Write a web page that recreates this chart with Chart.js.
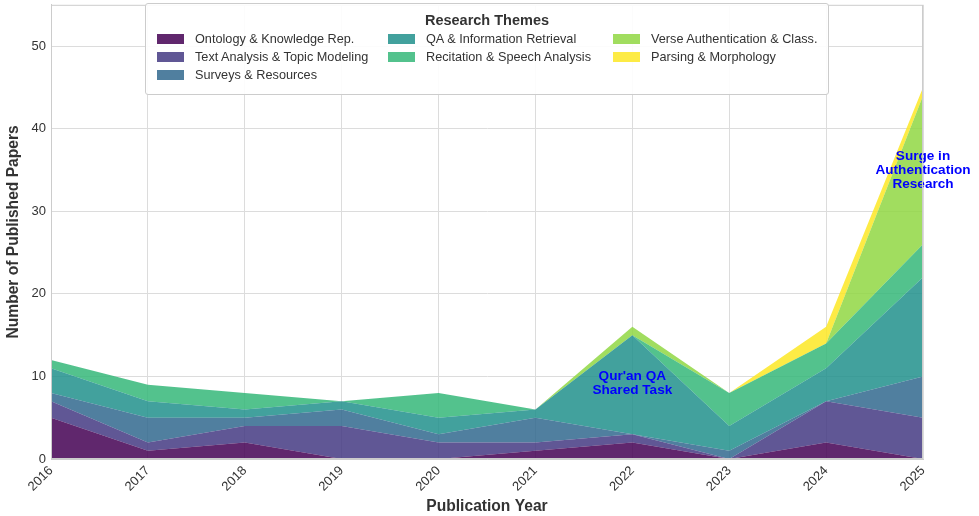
<!DOCTYPE html>
<html>
<head>
<meta charset="utf-8">
<script src="https://cdn.jsdelivr.net/npm/chart.js@4.4.0/dist/chart.umd.min.js"></script>
<style>
  body { margin: 0; background: #fff; font-family: "Liberation Sans", Arial, sans-serif; }
  #wrap { position: relative; width: 979px; height: 516px; overflow: hidden; }
  #myChart { position: absolute; left: 0; top: -8px; }
  #legend {
    position: absolute; left: 145px; top: 3px; width: 684px; height: 92px;
    background: rgba(255,255,255,0.9); border: 1px solid #ccc; border-radius: 3px;
    box-sizing: border-box; font-size: 12.7px; color: #333;
  }
  #legend .title { position: absolute; top: 8px; width: 100%; text-align: center; font-weight: bold; font-size: 14.5px; }
  #legend .item { position: absolute; white-space: nowrap; line-height: 15px; }
  #legend .sw { display: inline-block; width: 27px; height: 10px; vertical-align: -1px; margin-right: 11px; }
</style>
</head>
<body>
<div id="wrap">
  <canvas id="myChart" width="979" height="524"></canvas>
  <div id="legend"><div class="title">Research Themes</div></div>
</div>
<script>
let years = ['2016', '2017', '2018', '2019', '2020', '2021', '2022', '2023', '2024', '2025'];
let themes = ['Ontology & Knowledge Rep.', 'Text Analysis & Topic Modeling', 'Surveys & Resources',
  'QA & Information Retrieval', 'Recitation & Speech Analysis', 'Verse Authentication & Class.', 'Parsing & Morphology'];
let ontology   = [5, 1, 2, 0, 0, 1, 2, 0, 2, 0];
let textAnal   = [2, 1, 2, 4, 2, 1, 1, 0, 5, 5];
let surveys    = [1, 3, 1, 2, 1, 3, 0, 1, 0, 5];
let qaRetr     = [3, 2, 1, 1, 2, 1, 12, 3, 4, 12];
let recitation = [1, 2, 2, 0, 3, 0, 0, 4, 3, 4];
let verseAuth  = [0, 0, 0, 0, 0, 0, 1, 0, 0, 18];
let parsing    = [0, 0, 0, 0, 0, 0, 0, 0, 2, 1];
let yTicks = [0, 10, 20, 30, 40, 50];
let colors = ['rgba(68,1,84,0.85)', 'rgba(68,57,131,0.85)', 'rgba(49,104,142,0.85)', 'rgba(33,145,140,0.85)',
  'rgba(53,183,121,0.85)', 'rgba(144,215,67,0.85)', 'rgba(253,231,37,0.85)'];
let series = [ontology, textAnal, surveys, qaRetr, recitation, verseAuth, parsing];

// legend laid out in three columns like the original
let legendEl = document.getElementById('legend');
let colX = [11, 242, 467];
themes.forEach(function (name, i) {
  let col = i < 3 ? 0 : (i < 5 ? 1 : 2);
  let row = i < 3 ? i : (i < 5 ? i - 3 : i - 5);
  let d = document.createElement('div');
  d.className = 'item';
  d.style.left = colX[col] + 'px';
  d.style.top = (28 + row * 18) + 'px';
  d.innerHTML = '<span class="sw" style="background:' + colors[i] + '"></span>' + name.replace(/&/g, '&amp;');
  legendEl.appendChild(d);
});

let notes = [
  { x: 6, y: 9.2, lines: ["Qur'an QA", 'Shared Task'] },
  { x: 9, y: 35, lines: ['Surge in', 'Authentication', 'Research'] }
];

let notePlugin = {
  id: 'notes',
  afterDatasetsDraw: function (chart) {
    let c = chart.ctx;
    c.save();
    c.font = 'bold 13.6px "Liberation Sans", Arial, sans-serif';
    c.fillStyle = '#0000ff';
    c.textAlign = 'center';
    c.textBaseline = 'middle';
    notes.forEach(function (n) {
      let px = chart.scales.x.getPixelForValue(n.x);
      let py = chart.scales.y.getPixelForValue(n.y);
      let h = 14;
      let start = py - (n.lines.length - 1) * h / 2;
      n.lines.forEach(function (t, k) { c.fillText(t, px, start + k * h); });
    });
    c.restore();
  }
};

let ctx = document.getElementById('myChart').getContext('2d');
let myChart = new Chart(ctx, {
  type: 'line',
  data: {
    labels: years,
    datasets: series.map(function (vals, i) {
      return {
        label: themes[i],
        data: vals,
        backgroundColor: colors[i],
        borderColor: colors[i],
        borderWidth: 0,
        pointRadius: 0,
        tension: 0,
        fill: i === 0 ? 'origin' : '-1'
      };
    })
  },
  options: {
    responsive: false,
    animation: false,
    layout: { padding: { top: 0, right: 56, left: 0, bottom: 0 } },
    plugins: { legend: { display: false }, tooltip: { enabled: false } },
    scales: {
      x: {
        offset: false,
        grid: { color: '#dcdcdc', drawTicks: false },
        border: { color: '#cccccc' },
        ticks: { color: '#333', font: { size: 13, family: 'Liberation Sans' }, maxRotation: 45, minRotation: 45, padding: 4 },
        title: { display: true, text: 'Publication Year', color: '#333', font: { size: 15.6, weight: 'bold', family: 'Liberation Sans' }, padding: { top: 0, bottom: 0 } },
        afterFit: function (s) { s.height = 57; }
      },
      y: {
        stacked: true,
        min: 0,
        max: 55,
        afterBuildTicks: function (s) { s.ticks = yTicks.map(function (v) { return { value: v }; }); },
        grid: { color: '#dcdcdc', drawTicks: false },
        border: { color: '#cccccc' },
        ticks: { color: '#333', font: { size: 13, family: 'Liberation Sans' }, padding: 5 },
        title: { display: true, text: 'Number of Published Papers', color: '#333', font: { size: 15.6, weight: 'bold', family: 'Liberation Sans' }, padding: { top: 4, bottom: 4 } },
        afterFit: function (s) { s.width = 51; }
      }
    }
  },
  plugins: [notePlugin, {
    id: 'frame',
    afterDraw: function (chart) {
      let a = chart.chartArea, c = chart.ctx;
      c.save();
      c.strokeStyle = '#cccccc';
      c.lineWidth = 1;
      c.strokeRect(a.left + 0.5, a.top + 0.5, a.right - a.left - 1, a.bottom - a.top - 1);
      c.restore();
    }
  }]
});
</script>
</body>
</html>
